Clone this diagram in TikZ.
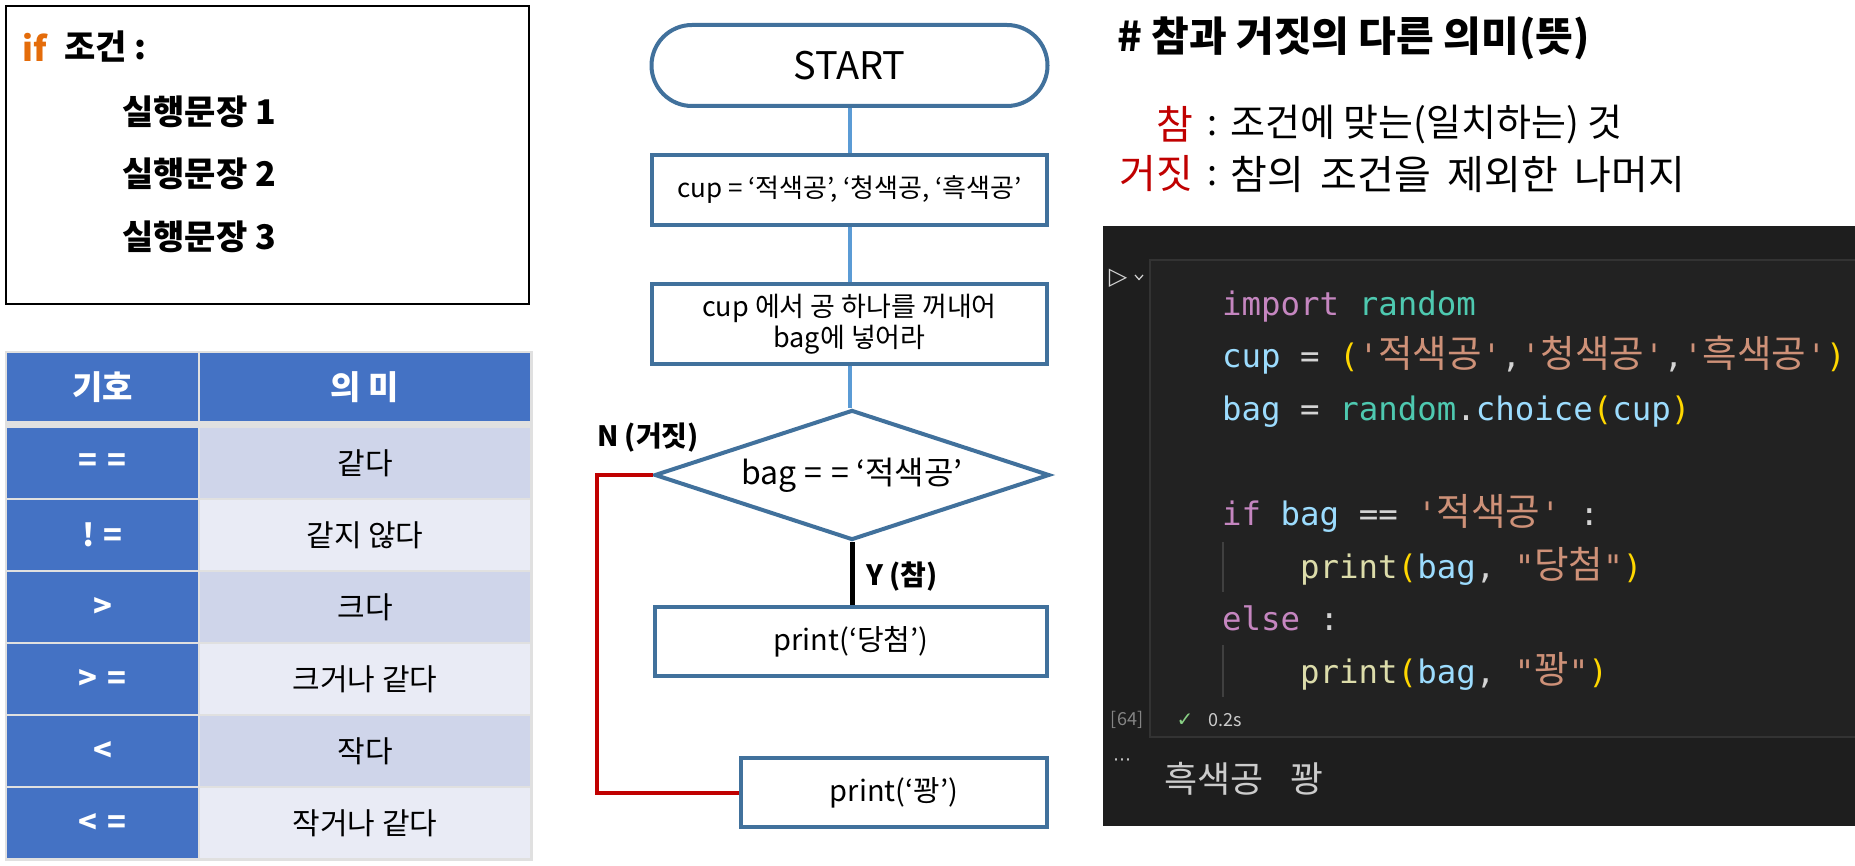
\documentclass[tikz,border=0pt]{standalone}
\usepackage{fontspec}
\setmainfont{Noto Sans CJK KR}
\setmonofont{DejaVu Sans Mono}
\newfontfamily\krc{Noto Sans CJK KR}[Scale=1.16]
\newfontfamily\dvs{DejaVu Sans}
\usetikzlibrary{shapes.geometric,shapes.misc}
\definecolor{shp}{HTML}{41719C}
\definecolor{cnn}{HTML}{5B9BD5}
\definecolor{nred}{HTML}{C00000}
\definecolor{iforange}{HTML}{E46C0A}
\definecolor{tblue}{HTML}{4472C4}
\definecolor{tdark}{HTML}{CFD5EA}
\definecolor{tlight}{HTML}{E9EBF5}
\definecolor{tgap}{HTML}{E0E0E0}
\definecolor{vsbg}{HTML}{1E1E1E}
\definecolor{vscell}{HTML}{222222}
\definecolor{vsline}{HTML}{333333}
\definecolor{ckw}{HTML}{C586C0}
\definecolor{cmod}{HTML}{4EC9B0}
\definecolor{cvar}{HTML}{9CDCFE}
\definecolor{cstr}{HTML}{CE9178}
\definecolor{cpar}{HTML}{FFD700}
\definecolor{cfun}{HTML}{DCDCAA}
\definecolor{cop}{HTML}{D4D4D4}
\definecolor{cgray}{HTML}{858585}
\definecolor{cout}{HTML}{CCCCCC}
\definecolor{cok}{HTML}{89D185}
\definecolor{cguide}{HTML}{404040}
\newcommand\ct[2]{\textcolor{#1}{#2}}
\newcommand\fs[1]{\fontsize{#1}{#1}\selectfont}
\newcommand\symgap{\hspace{0.3em}}
\newcommand\wordgap{\hspace{0.42em}}
\tikzset{
  flowbox/.style={draw=shp, line width=4pt, fill=white, rectangle, inner sep=0pt},
  conn/.style={draw=cnn, line width=4pt},
  iftext/.style={anchor=west, inner sep=0pt, font=\bfseries\fs{34}},
  hdcell/.style={fill=tblue, text=white, inner sep=0pt, font=\bfseries\fs{33}},
  symcell/.style={fill=tblue, text=white, inner sep=0pt, minimum width=191pt, minimum height=70pt, font=\bfseries\fs{31}},
  darkcell/.style={fill=tdark, inner sep=0pt, minimum width=330pt, minimum height=70pt, font=\fs{30}},
  lightcell/.style={fill=tlight, inner sep=0pt, minimum width=330pt, minimum height=70pt, font=\fs{30}},
  code/.style={anchor=base west, inner sep=0pt, font=\ttfamily\fs{32.4}},
  lbl/.style={inner sep=0pt, font=\bfseries\fs{28}},
  mean/.style={inner sep=0pt},
}
\begin{document}
\begin{tikzpicture}[x=1pt,y=-1pt]
\useasboundingbox (0,0) rectangle (1855,866);
\fill[white] (0,0) rectangle (1855,866);

% ---------- if box ----------
\node[draw=black, line width=2.5pt, minimum width=523pt, minimum height=298pt, inner sep=0pt] (ifbox) at (267.5,155) {};
\node[iftext, text=iforange] (ifkw) at (22,47) {if};
\node[iftext] (ifcond) at (64,47) {조건 :};
\node[iftext] (stmt1) at (122,112) {실행문장 1};
\node[iftext] (stmt2) at (122,174) {실행문장 2};
\node[iftext] (stmt3) at (122,237) {실행문장 3};

% ---------- table ----------
\fill[tgap] (5,351) rectangle (533,861);
\node[hdcell, minimum width=191pt, minimum height=68pt] (h1) at (102.5,387) {기호};
\node[hdcell, minimum width=330pt, minimum height=68pt] (h2) at (365,387) {의 미};
\node[symcell] (s1) at (102.5,463) {=\symgap=};
\node[darkcell] (m1) at (365,463) {같다};
\node[symcell] (s2) at (102.5,535) {!\symgap=};
\node[lightcell] (m2) at (365,535) {같지 않다};
\node[symcell] (s3) at (102.5,607) {>};
\node[darkcell] (m3) at (365,607) {크다};
\node[symcell] (s4) at (102.5,679) {>\symgap=};
\node[lightcell] (m4) at (365,679) {크거나 같다};
\node[symcell] (s5) at (102.5,751) {<};
\node[darkcell] (m5) at (365,751) {작다};
\node[symcell] (s6) at (102.5,823) {<\symgap=};
\node[lightcell] (m6) at (365,823) {작거나 같다};

% ---------- flowchart ----------
\node[flowbox, rounded rectangle, minimum width=396pt, minimum height=81pt, font=\fs{38}] (start) at (849.5,65.5) {START};
\node[flowbox, minimum width=395pt, minimum height=70pt, font=\fs{26}] (cup) at (849.5,190) {cup = ‘적색공’, ‘청색공, ‘흑색공’};
\node[flowbox, minimum width=395pt, minimum height=80pt, font=\fs{27}, align=center] (pick) at (849.5,324) {cup 에서 공 하나를 꺼내어\\[2pt]bag에 넣어라};
\node[flowbox, diamond, aspect=3.04, minimum width=395pt, minimum height=130pt, font=\fs{32}] (cond) at (852,475) {bag =\symgap= ‘적색공’};
\node[flowbox, minimum width=392pt, minimum height=69pt, font=\fs{29}] (win) at (851,641.5) {print(‘당첨’)};
\node[flowbox, minimum width=306pt, minimum height=69pt, font=\fs{29}] (lose) at (894,792.5) {print(‘꽝’)};

\draw[conn] (start.south) -- (cup.north);
\draw[conn] (cup.south) -- (pick.north);
\draw[conn] (pick.south) -- (pick.south |- cond.north);
\draw[line width=5pt, black] (cond.south) -- (cond.south |- win.north);
\draw[line width=4pt, nred] (cond.west) -- ++(-56,0) |- (lose.west);
\node[lbl] (nlbl) at (648,438) {N (거짓)};
\node[lbl] (ylbl) at (902,577) {Y (참)};

% ---------- meaning text ----------
\node[anchor=west, inner sep=0pt, font=\bfseries\fs{41}] (title) at (1117,38) {\# 참과 거짓의 다른 의미(뜻)};
\node[mean, anchor=east, font=\fs{40}, text=nred] (tw) at (1193,124) {참};
\node[mean, font=\fs{36}] (tc) at (1212,126) {:};
\node[mean, anchor=west, font=\fs{38}] (td) at (1230,125) {조건에 맞는(일치하는) 것};
\node[mean, anchor=east, font=\fs{40}, text=nred] (fw) at (1193,174) {거짓};
\node[mean, font=\fs{36}] (fc) at (1212,176) {:};
\node[mean, anchor=west, font=\fs{40}] (fd) at (1230,174) {참의\wordgap 조건을\wordgap 제외한\wordgap 나머지};

% ---------- code panel ----------
\fill[vsbg] (1103,226) rectangle (1855,826);
\filldraw[fill=vscell, draw=vsline, line width=1.5pt] (1150,260) rectangle (1860,737);
\node[inner sep=0pt, text=cop, font=\dvs\fs{24}] (run) at (1118,278) {▷};
\draw[cop, line width=1.2pt] (1135,275) -- (1139,279.5) -- (1143,275);
\draw[cguide, line width=1.2pt] (1223,542) -- (1223,592);
\draw[cguide, line width=1.2pt] (1223,645) -- (1223,697);
\node[code] (c1) at (1222,316) {\ct{ckw}{import} \ct{cmod}{random}};
\node[code] (c2) at (1222,368) {\ct{cvar}{cup} \ct{cop}{=} \ct{cpar}{(}\ct{cstr}{'{\krc 적색공}'}\ct{cop}{,}\ct{cstr}{'{\krc 청색공}'}\ct{cop}{,}\ct{cstr}{'{\krc 흑색공}'}\ct{cpar}{)}};
\node[code] (c3) at (1222,420) {\ct{cvar}{bag} \ct{cop}{=} \ct{cmod}{random}\ct{cop}{.}\ct{cvar}{choice}\ct{cpar}{(}\ct{cvar}{cup}\ct{cpar}{)}};
\node[code] (c4) at (1222,525) {\ct{ckw}{if} \ct{cvar}{bag} \ct{cop}{==} \ct{cstr}{'{\krc 적색공}'} \ct{cop}{:}};
\node[code] (c5) at (1300,578) {\ct{cfun}{print}\ct{cpar}{(}\ct{cvar}{bag}\ct{cop}{,} \ct{cstr}{"{\krc 당첨}"}\ct{cpar}{)}};
\node[code] (c6) at (1222,630) {\ct{ckw}{else} \ct{cop}{:}};
\node[code] (c7) at (1300,683) {\ct{cfun}{print}\ct{cpar}{(}\ct{cvar}{bag}\ct{cop}{,} \ct{cstr}{"{\krc 꽝}"}\ct{cpar}{)}};
\node[inner sep=0pt, text=cgray, font=\fs{18}] (cnt) at (1127,720) {[64]};
\node[inner sep=0pt, text=cok, font=\dvs\fs{20}] (ok) at (1185,720) {✓};
\node[inner sep=0pt, text=cout, font=\fs{18}] (tm) at (1225,720) {0.2s};
\node[inner sep=0pt, text=cout, font=\dvs\fs{18}] (dots) at (1122,762) {⋯};
\node[anchor=west, inner sep=0pt, text=cout, font=\fs{36}] (out) at (1164,779) {흑색공\hspace{0.75em}꽝};
\end{tikzpicture}
\end{document}
